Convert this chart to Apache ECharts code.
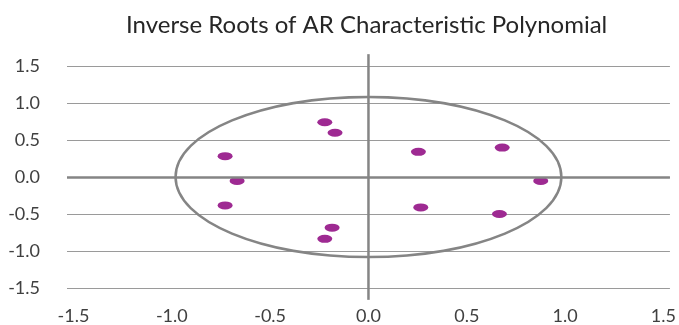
<!DOCTYPE html>
<html>
<head>
<meta charset="utf-8">
<script src="https://cdn.jsdelivr.net/npm/echarts@6/dist/echarts.min.js"></script>
<style>html,body{margin:0;padding:0;background:#fff}#c{width:679px;height:325px}</style>
</head>
<body>
<div id="c"></div>
<script>
var title = 'Inverse Roots of AR Characteristic Polynomial';
var rootX = [-0.222, -0.170, -0.729, -0.668, -0.729, -0.185, -0.222, 0.254, 0.680, 0.876, 0.266, 0.666];
var rootY = [0.740, 0.598, 0.282, -0.053, -0.384, -0.685, -0.836, 0.340, 0.397, -0.053, -0.411, -0.500];
var xTicks = [-1.5, -1.0, -0.5, 0.0, 0.5, 1.0, 1.5];
var yTicks = [-1.5, -1.0, -0.5, 0.0, 0.5, 1.0, 1.5];
var circle = {cx: 0, cy: 0, rx: 0.981, ry: 1.082};
var crossExtent = 1.66;

var chart = echarts.init(document.getElementById('c'), null, {renderer: 'canvas'});
var FONT = 'Lato';
var points = rootX.map(function (x, i) { return [x, rootY[i]]; });

chart.setOption({
  animation: false,
  title: {
    text: title, left: 121, top: 8,
    textStyle: {fontFamily: FONT, fontSize: 24, fontWeight: 'normal', color: '#262626'}
  },
  grid: {left: 67, right: 7, top: 66, bottom: 33, containLabel: false},
  xAxis: {
    type: 'value', min: -1.533, max: 1.533,
    axisLine: {show: false}, axisTick: {show: false}, splitLine: {show: false},
    axisLabel: {
      customValues: xTicks, margin: 19,
      fontFamily: FONT, fontSize: 18, color: '#404040',
      formatter: function (v) { return v.toFixed(1); }
    }
  },
  yAxis: {
    type: 'value', min: -1.5, max: 1.5, interval: 0.5,
    axisLine: {show: false}, axisTick: {show: false},
    splitLine: {show: true, lineStyle: {color: '#9a9a9a', width: 1}},
    axisLabel: {
      margin: 27, fontFamily: FONT, fontSize: 18, color: '#404040',
      formatter: function (v) { return v.toFixed(1); }
    }
  },
  series: [
    {
      type: 'line', data: [[0, 0]], symbol: 'none', silent: true,
      lineStyle: {width: 0},
      markLine: {
        silent: true, symbol: 'none', label: {show: false},
        lineStyle: {color: '#858585', width: 2.5, type: 'solid'},
        data: [{yAxis: 0}]
      }
    },
    {
      type: 'line', data: [[0, -crossExtent], [0, crossExtent]], clip: false,
      symbol: 'none', silent: true,
      lineStyle: {color: '#858585', width: 2.5}
    },
    {
      type: 'custom', silent: true, clip: false,
      data: [[circle.cx, circle.cy, circle.rx, circle.ry]],
      renderItem: function (params, api) {
        var c = api.coord([api.value(0), api.value(1)]);
        var e = api.coord([api.value(0) + api.value(2), api.value(1) + api.value(3)]);
        return {
          type: 'ellipse',
          shape: {cx: c[0], cy: c[1], rx: Math.abs(e[0] - c[0]), ry: Math.abs(c[1] - e[1])},
          style: {fill: 'none', stroke: '#858585', lineWidth: 2.5}
        };
      }
    },
    {
      type: 'scatter', data: points,
      symbol: 'path://M0,50 A50,50 0 1,1 100,50 A50,50 0 1,1 0,50 Z',
      symbolSize: [15, 8], symbolKeepAspect: false,
      itemStyle: {color: '#9E2A92', opacity: 1}
    }
  ]
});
</script>
</body>
</html>
